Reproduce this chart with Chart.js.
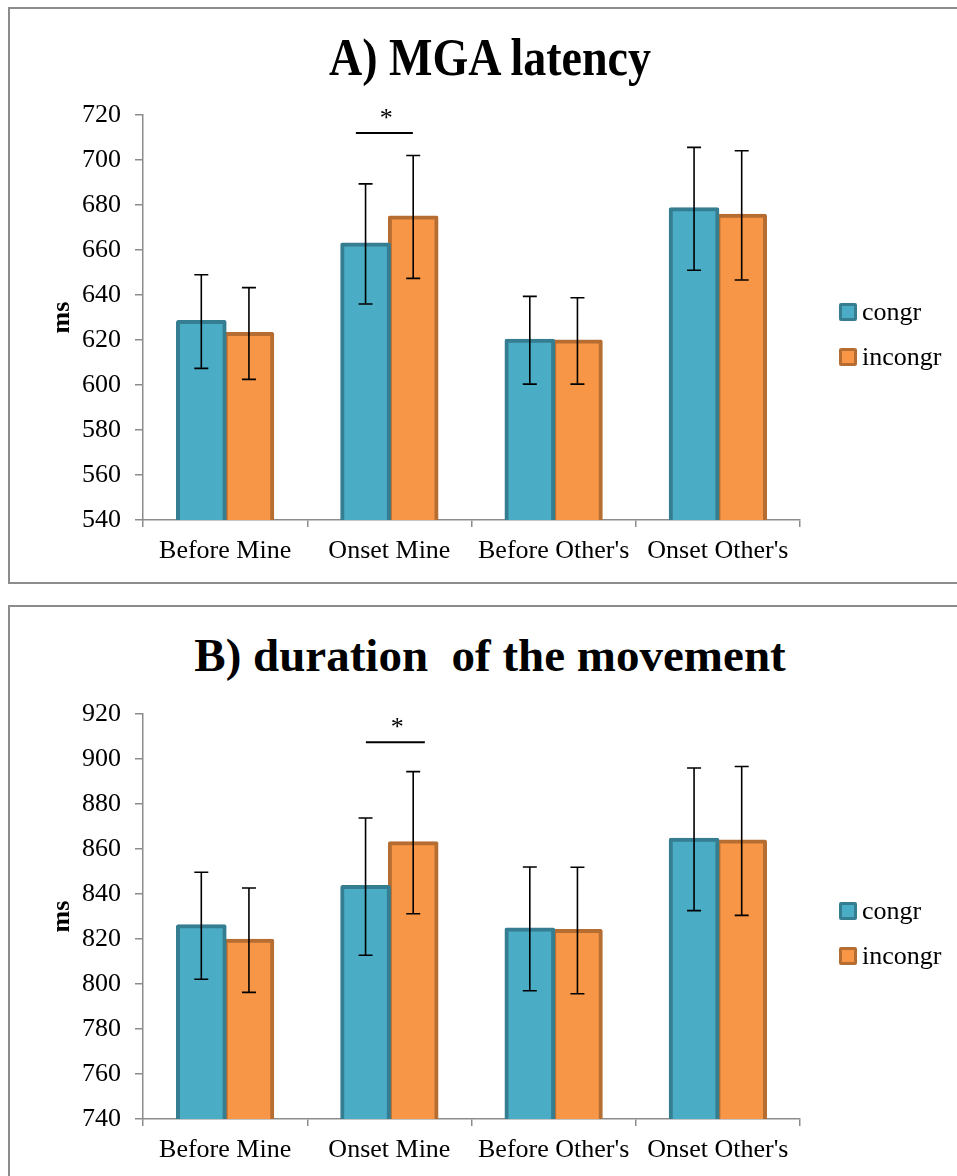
<!DOCTYPE html>
<html>
<head>
<meta charset="utf-8">
<script src="https://cdn.jsdelivr.net/npm/chart.js@4.4.0/dist/chart.umd.min.js"></script>
<style>
body { margin:0; width:957px; height:1176px; overflow:hidden; background:#fff; position:relative;
       font-family:"Liberation Serif","Times New Roman",serif; color:#000; }
.panel { position:absolute; left:8px; width:990px; border:2px solid #8c8c8c; box-sizing:border-box; }
#panelA { top:7px; height:577px; }
#panelB { top:605px; height:640px; }
.title { position:absolute; font-family:"Liberation Serif","Times New Roman",serif; font-weight:bold;
         white-space:pre; line-height:1; transform-origin:0 0; }
canvas { position:absolute; left:0; }
.leg { position:absolute; left:839px; font-family:"Liberation Serif","Times New Roman",serif;
       font-size:26px; line-height:26px; white-space:pre; }
.leg span.box { position:absolute; left:0; width:18px; height:18px; box-sizing:border-box; border:3px solid; border-radius:2px; }
.leg span.txt { position:absolute; left:23px; }
</style>
</head>
<body>
<div class="panel" id="panelA"></div>
<div class="panel" id="panelB"></div>

<div class="title" id="titleA" style="font-size:52px; top:31.5px; left:489.5px; transform:scaleX(0.885) translateX(-50%);">A) MGA latency</div>
<div class="title" id="titleB" style="font-size:47px; top:631.6px; left:490px; transform:translateX(-50%);">B) duration  of the movement</div>

<canvas id="chartA" width="957" height="490" style="top:90px"></canvas>
<canvas id="chartB" width="957" height="486" style="top:690px"></canvas>

<div class="leg" style="top:303px"><span class="box" style="background:#4BACC6;border-color:#357D91"></span><span class="txt" style="top:-4px">congr</span></div>
<div class="leg" style="top:348px"><span class="box" style="background:#F79646;border-color:#B66D31"></span><span class="txt" style="top:-4px">incongr</span></div>
<div class="leg" style="top:902px"><span class="box" style="background:#4BACC6;border-color:#357D91"></span><span class="txt" style="top:-4px">congr</span></div>
<div class="leg" style="top:947px"><span class="box" style="background:#F79646;border-color:#B66D31"></span><span class="txt" style="top:-4px">incongr</span></div>

<script>
// categories and series
var categories = ["Before Mine", "Onset Mine", "Before Other's", "Onset Other's"];
var seriesNames = ["congr", "incongr"];

// A) MGA latency (ms)
var latencyCongr = [628.2, 662.7, 619.9, 678.3];
var latencyIncongr = [622.9, 674.7, 619.6, 675.4];
var latencyCongrErr = [20.8, 26.7, 19.5, 27.3];
var latencyIncongrErr = [20.4, 27.3, 19.2, 28.7];
var latencyRange = [540, 720];
var latencySig = 712;

// B) duration of the movement (ms)
var durationCongr = [825.9, 843.3, 824.5, 864.3];
var durationIncongr = [819.5, 862.8, 823.8, 863.6];
var durationCongrErr = [23.8, 30.5, 27.5, 31.7];
var durationIncongrErr = [23.2, 31.6, 28.1, 33.1];
var durationRange = [740, 920];
var durationSig = 907.4;

var tickStep = 20;

Chart.defaults.font.family = "'Liberation Serif', 'Times New Roman', serif";
Chart.defaults.color = '#000';

var axisGray = '#8c8c8c';

// error bars drawn on top of each bar
var errorBars = {
    id: 'errorBars',
    afterDatasetsDraw: function(chart){
        var ctx = chart.ctx;
        var ys = chart.scales.y;
        ctx.save();
        ctx.strokeStyle = '#000';
        ctx.lineWidth = 1.6;
        chart.data.datasets.forEach(function(ds, i){
            chart.getDatasetMeta(i).data.forEach(function(bar, j){
                var v = ds.data[j], e = ds.errors[j];
                var top = ys.getPixelForValue(v + e);
                var bot = ys.getPixelForValue(v - e);
                var x = bar.x;
                ctx.beginPath();
                ctx.moveTo(x, top); ctx.lineTo(x, bot);
                ctx.moveTo(x - 7, top); ctx.lineTo(x + 7, top);
                ctx.moveTo(x - 7, bot); ctx.lineTo(x + 7, bot);
                ctx.stroke();
            });
        });
        ctx.restore();
    }
};

// significance line + asterisk
var sigMark = {
    id: 'sigMark',
    afterDatasetsDraw: function(chart, args, opts){
        if (opts.value == null) return;
        var ctx = chart.ctx;
        var xs = chart.scales.x, ys = chart.scales.y;
        var c = xs.getPixelForValue(opts.index);
        var w = xs.width / chart.data.labels.length;
        var x1 = c + opts.from * w, x2 = c + opts.to * w;
        var y = ys.getPixelForValue(opts.value);
        ctx.save();
        ctx.strokeStyle = '#000';
        ctx.lineWidth = 2;
        ctx.beginPath(); ctx.moveTo(x1, y); ctx.lineTo(x2, y); ctx.stroke();
        ctx.fillStyle = '#000';
        ctx.font = "26px 'Liberation Serif', 'Times New Roman', serif";
        ctx.textAlign = 'center';
        ctx.textBaseline = 'alphabetic';
        ctx.fillText('*', (x1 + x2) / 2 + 2, y - 7);
        ctx.restore();
    }
};

function makeChart(id, congr, incongr, congrErr, incongrErr, range, sig, topPad, xHeight){
    return new Chart(document.getElementById(id), {
        type: 'bar',
        data: {
            labels: categories,
            datasets: [
                {label: seriesNames[0], data: congr, errors: congrErr,
                 backgroundColor: '#4BACC6', borderColor: '#357D91'},
                {label: seriesNames[1], data: incongr, errors: incongrErr,
                 backgroundColor: '#F79646', borderColor: '#B66D31'}
            ]
        },
        options: {
            responsive: false,
            animation: false,
            layout: {padding: {top: topPad, right: 157, left: 0, bottom: 0}},
            datasets: {bar: {categoryPercentage: 0.58, barPercentage: 1.0, borderWidth: 4,
                             borderSkipped: false, borderRadius: 2, inflateAmount: 1.5}},
            scales: {
                x: {
                    grid: {display: true, offset: true, drawOnChartArea: false, drawTicks: true,
                           tickLength: 7, color: axisGray, lineWidth: 1.5},
                    border: {display: true, color: axisGray, width: 1.5},
                    ticks: {font: {size: 26}, padding: 9, maxRotation: 0, autoSkip: false},
                    afterFit: function(s){ s.height = xHeight; }
                },
                y: {
                    min: range[0], max: range[1],
                    grid: {display: true, drawOnChartArea: false, drawTicks: true,
                           tickLength: 8, color: axisGray, lineWidth: 1.5},
                    border: {display: true, color: axisGray, width: 1.5},
                    ticks: {stepSize: tickStep, font: {size: 26}, padding: 14},
                    title: {display: true, text: 'ms', font: {size: 26, weight: 'bold'},
                            padding: {top: 47, bottom: 0}},
                    afterFit: function(s){
                        s.width = 143;
                        s.paddingTop = 0;
                        s.paddingBottom = 0;
                    }
                }
            },
            plugins: {
                legend: {display: false},
                title: {display: false},
                tooltip: {enabled: false},
                sigMark: sig
            }
        },
        plugins: [errorBars, sigMark]
    });
}

makeChart('chartA', latencyCongr, latencyIncongr, latencyCongrErr, latencyIncongrErr,
          latencyRange, {index: 1, value: latencySig, from: -0.204, to: 0.143}, 25, 60);
makeChart('chartB', durationCongr, durationIncongr, durationCongrErr, durationIncongrErr,
          durationRange, {index: 1, value: durationSig, from: -0.143, to: 0.216}, 24, 57);
</script>
</body>
</html>
